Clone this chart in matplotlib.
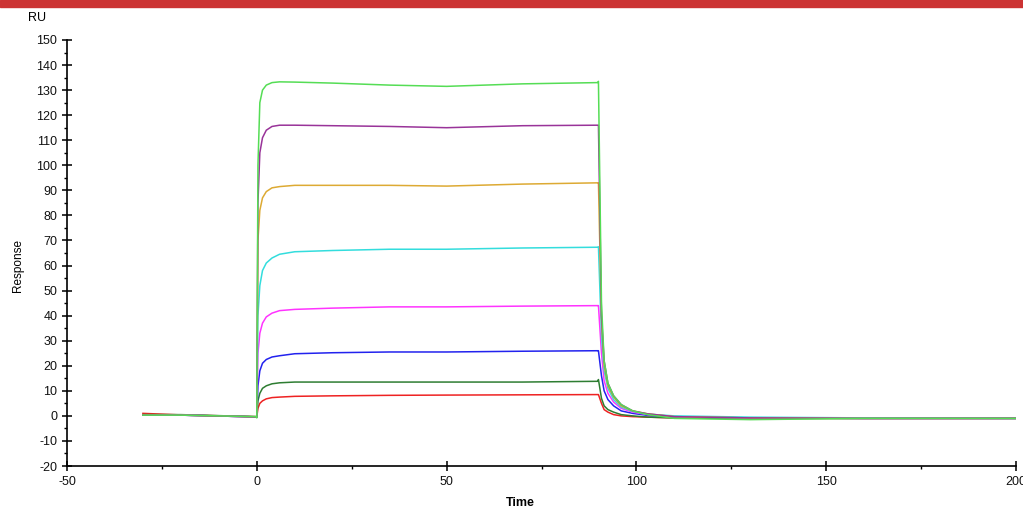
import matplotlib
matplotlib.use("Agg")
import matplotlib.pyplot as plt
from matplotlib.patches import Rectangle
from matplotlib.ticker import MultipleLocator

plt.rcParams['font.family'] = ['Liberation Sans', 'DejaVu Sans']
plt.rcParams['axes.unicode_minus'] = False

# shared time points (s)
t = [-30, -20, -0.2, 0.0,
     0.3, 0.8, 1.5, 2.5, 4, 6, 10, 20, 35, 50, 70, 89.8,
     90.0, 90.8, 91.5, 92.5, 94, 96, 99, 103, 110, 130, 160, 200]

# responses (RU)
red = [1.0, 0.4, -0.3, -0.4,
       3, 5, 6, 6.8, 7.3, 7.5, 7.8, 8, 8.2, 8.3, 8.4, 8.5,
       8.5, 5, 2.5, 1.5, 0.5, 0, -0.3, -0.5, -0.8, -1, -1, -1]
dkgreen = [0.5, 0.5, -0.3, -0.5,
           6, 9, 11, 12, 12.8, 13.2, 13.5, 13.5, 13.5, 13.5, 13.5, 13.8,
           14.5, 7, 4, 2.5, 1.5, 0.5, 0, -0.5, -0.8, -1, -1, -1]
blue = [0.3, 0.3, -0.4, -0.5,
        12, 18, 21, 22.5, 23.5, 24, 24.8, 25.2, 25.5, 25.5, 25.8, 26,
        26, 16, 10, 6.5, 4, 2, 1, 0.2, -0.5, -0.8, -1, -1]
magenta = [0.3, 0.3, -0.4, -0.5,
           25, 33, 37, 39.5, 41, 42, 42.5, 43, 43.5, 43.5, 43.8, 44,
           44, 25, 14, 9, 5.5, 3, 1.5, 0.5, -0.3, -0.8, -1, -1]
cyan = [0.3, 0.3, -0.4, -0.5,
        40, 52, 58, 61, 63, 64.5, 65.5, 66, 66.5, 66.5, 67, 67.3,
        67.5, 32, 18, 11, 6.5, 3.5, 1.8, 0.7, 0, -0.5, -0.8, -1]
orange = [0.3, 0.3, -0.4, -0.5,
          70, 82, 87, 89.5, 91, 91.5, 92, 92, 92, 91.7, 92.5, 93,
          93, 38, 20, 12, 7.5, 4, 2, 0.8, -0.3, -0.8, -1, -1]
purple = [0.3, 0.3, -0.4, -0.5,
          85, 105, 111, 114, 115.5, 116, 116, 115.8, 115.5, 115, 115.8, 116,
          116, 40, 22, 13, 8, 4.5, 2, 0.8, -0.3, -0.8, -1, -1]
green = [0.3, 0.3, -0.3, -0.8,
         100, 125, 130, 132, 133, 133.3, 133.2, 132.8, 132, 131.5, 132.5, 133,
         133.5, 45, 22, 13, 8, 4.5, 2, 0.5, -1, -1.5, -1, -1]

series = [(red, '#ee2222'), (dkgreen, '#2e7d32'), (blue, '#2222ee'),
          (magenta, '#ff33ff'), (cyan, '#33dddd'), (orange, '#ddaa33'),
          (purple, '#993399'), (green, '#55dd55')]

fig = plt.figure(figsize=(10.23, 5.11), dpi=100)
fig.patches.append(Rectangle((0, 1 - 7 / 511), 1, 7 / 511, transform=fig.transFigure,
                             color='#cc3333', zorder=0))
ax = fig.add_axes([67 / 1023, 45 / 511, 949 / 1023, 426 / 511])

for y, c in series:
    ax.plot(t, y, color=c, lw=1.1)

ax.set_xlim(-50, 200)
ax.set_ylim(-20, 150)
ax.xaxis.set_major_locator(MultipleLocator(50))
ax.xaxis.set_minor_locator(MultipleLocator(25))
ax.yaxis.set_major_locator(MultipleLocator(10))
ax.yaxis.set_minor_locator(MultipleLocator(5))
ax.tick_params(which='major', direction='inout', length=7, width=1.2, labelsize=9,
               colors='#111111')
ax.tick_params(which='minor', direction='out', length=2.5, width=1)
for s in ['top', 'right']:
    ax.spines[s].set_visible(False)
for s in ['left', 'bottom']:
    ax.spines[s].set_linewidth(1.2)

fig.text(28 / 1023, 1 - 18 / 511, 'RU', fontsize=9, va='center', ha='left')
fig.text(18 / 1023, 1 - 265 / 511, 'Response', fontsize=8.5, rotation=90,
         va='center', ha='center')
fig.text(520 / 1023, 1 - 503 / 511, 'Time', fontsize=9, fontweight='bold',
         va='center', ha='center')

fig.savefig('out.png', dpi=100)
